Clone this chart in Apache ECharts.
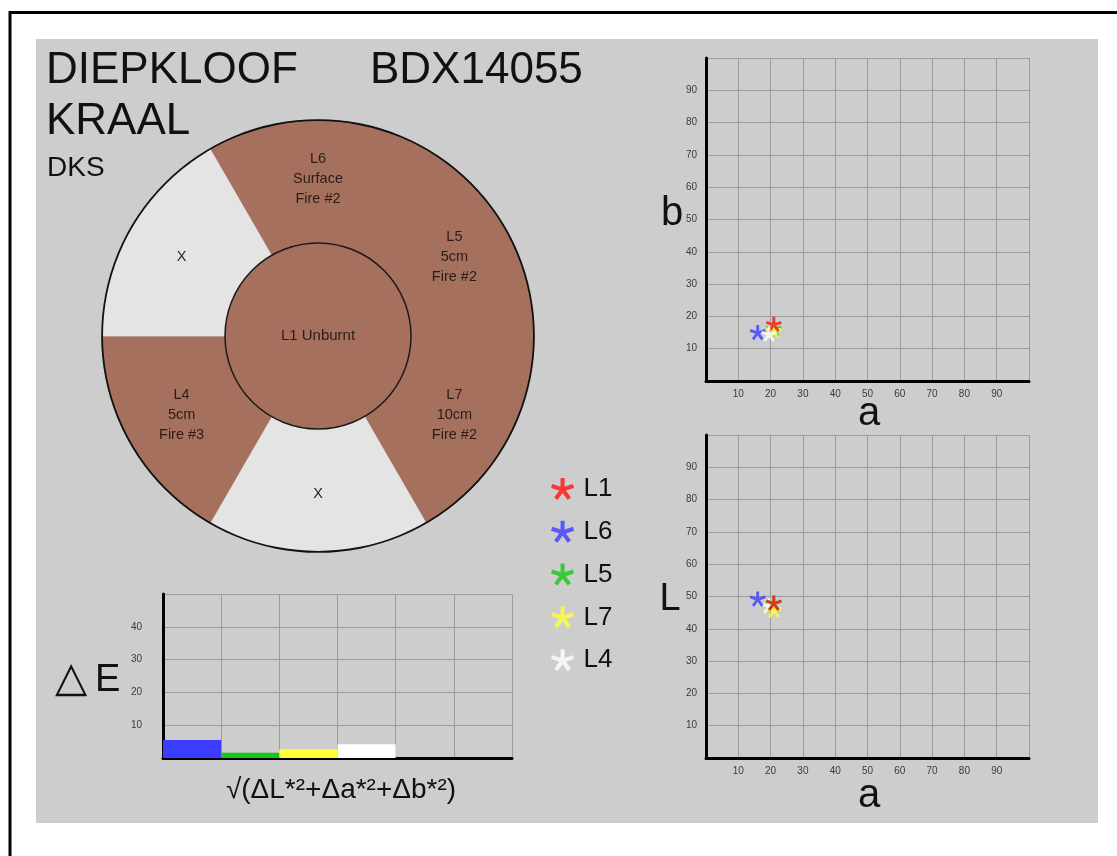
<!DOCTYPE html>
<html><head><meta charset="utf-8">
<script src="https://cdn.jsdelivr.net/npm/echarts@6/dist/echarts.min.js"></script>
<style>html,body{margin:0;padding:0;background:#fff}#c{width:1117px;height:856px}</style>
</head><body><div id="c"></div>
<script>
// ---------------- DATA ----------------
const samples = ['L1', 'L6', 'L5', 'L7', 'L4'];
const aValues = [21, 16, 21, 21, 19.5];
const bValues = [17.5, 15, 16, 15.5, 14.5];
const LValues = [47.9, 49.2, 48, 45.7, 47];
const deltaECategories = ['L6', 'L5', 'L7', 'L4', '', ''];
const deltaEValues = [5.5, 1.6, 2.7, 4.2, null, null];
const sectorLabels = ['L6\nSurface\nFire #2', 'L5\n5cm\nFire #2', 'L7\n10cm\nFire #2', 'X', 'L4\n5cm\nFire #3', 'X'];
const sectorValues = [1, 1, 1, 1, 1, 1];
const centerLabel = 'L1 Unburnt';
const tickStep = 10;

// ---------------- STYLE ----------------
const sampleColors = ['#ff1414', '#3c3cff', '#14c814', '#ffff3a', '#ffffff'];
const barColors = ['#3c3cff', '#14c814', '#ffff3a', '#ffffff'];
const BROWN = '#a6705f', XCOL = '#e4e4e4';
const sectorColors = [BROWN, BROWN, BROWN, XCOL, BROWN, XCOL];
const FONT = '"Liberation Sans", Arial, sans-serif';

function starPath() {
  const len = 10, hw = 1.8; let d = '';
  for (let k = 0; k < 5; k++) {
    const t = (-90 + 72 * k) * Math.PI / 180;
    const ux = Math.cos(t), uy = Math.sin(t), px = -uy, py = ux;
    const s = -hw;
    const pts = [[ux * s + px * hw, uy * s + py * hw], [ux * len + px * hw, uy * len + py * hw],
                 [ux * len - px * hw, uy * len - py * hw], [ux * s - px * hw, uy * s - py * hw]];
    d += 'M' + pts.map(p => p[0].toFixed(2) + ' ' + p[1].toFixed(2)).join(' L') + ' Z ';
  }
  return 'path://' + d;
}
const STAR = starPath();

const chart = echarts.init(document.getElementById('c'), null, {renderer: 'canvas'});

const gridLine = {show: true, lineStyle: {color: '#9c9c9c', width: 1}};
const axisLineBlack = {show: true, onZero: false, lineStyle: {color: '#000', width: 3}};
const tickLbl = {fontSize: 10, color: '#3a3a3a', fontFamily: FONT, showMinLabel: false, showMaxLabel: false};

function valAxis(grid, extra) {
  return Object.assign({
    type: 'value', gridIndex: grid, min: 0, max: 100, interval: tickStep,
    axisLine: axisLineBlack, axisTick: {show: false}, splitLine: gridLine,
    axisLabel: Object.assign({}, tickLbl)
  }, extra || {});
}

const zTop = {L1: 4, L6: 3, L5: 2, L7: 2.5, L4: 5};
const zBot = {L1: 4, L6: 4, L5: 3, L7: 2.5, L4: 1};

const series = [];
samples.forEach((s, i) => {
  series.push({
    type: 'scatter', name: s, xAxisIndex: 0, yAxisIndex: 0, z: zTop[s],
    symbol: STAR, symbolKeepAspect: true, symbolSize: 16,
    itemStyle: {color: sampleColors[i]}, silent: true,
    data: [[aValues[i], bValues[i]]]
  });
  series.push({
    type: 'scatter', name: s, xAxisIndex: 1, yAxisIndex: 1, z: zBot[s],
    symbol: STAR, symbolKeepAspect: true, symbolSize: 16,
    itemStyle: {color: sampleColors[i]}, silent: true,
    data: [[aValues[i], LValues[i]]]
  });
});

series.push({
  type: 'bar', xAxisIndex: 2, yAxisIndex: 2, barCategoryGap: '0%', silent: true,
  data: deltaEValues.map((v, i) => ({value: v, itemStyle: {color: barColors[i] || '#fff'}}))
});

series.push({
  type: 'pie', center: [318, 336], radius: [93, 216], startAngle: 120, clockwise: true,
  silent: true, avoidLabelOverlap: false, z: 2,
  label: {show: true, position: 'inside', formatter: '{b}', fontSize: 14.5, lineHeight: 20, color: '#2a1d18', fontFamily: FONT},
  labelLine: {show: false}, emphasis: {disabled: true},
  data: sectorValues.map((v, i) => ({value: v, name: sectorLabels[i],
    itemStyle: {color: sectorColors[i], borderColor: sectorColors[i], borderWidth: 0.8}}))
});
series.push({
  type: 'pie', center: [318, 336], radius: [215, 216.8], silent: true, z: 3,
  label: {show: false}, labelLine: {show: false}, emphasis: {disabled: true},
  data: [{value: 1, name: 'ring', itemStyle: {color: '#111'}}]
});
series.push({
  type: 'pie', center: [318, 336], radius: [0, 93], silent: true, z: 3,
  label: {show: true, position: 'center', formatter: '{b}', fontSize: 15, color: '#2a1d18', fontFamily: FONT},
  labelLine: {show: false}, emphasis: {disabled: true},
  itemStyle: {borderColor: '#1a1a1a', borderWidth: 1.5},
  data: [{value: 1, name: centerLabel, itemStyle: {color: BROWN}}]
});

function txt(x, y, text, size, align, family) {
  return {type: 'text', x: x, y: y, z: 100, silent: true,
    style: {text: text, fontSize: size, fontFamily: family || FONT, fill: '#111', align: align || 'left', verticalAlign: 'middle'}};
}

const option = {
  animation: false,
  backgroundColor: '#ffffff',
  textStyle: {fontFamily: FONT},
  grid: [
    {left: 706, top: 58, width: 323, height: 323},
    {left: 706, top: 435, width: 323, height: 323},
    {left: 163, top: 594, width: 349, height: 164}
  ],
  xAxis: [
    valAxis(0, {axisLabel: Object.assign({}, tickLbl, {margin: 8})}),
    valAxis(1, {axisLabel: Object.assign({}, tickLbl, {margin: 8})}),
    {type: 'category', gridIndex: 2, data: deltaECategories, boundaryGap: true,
     axisLine: axisLineBlack, axisTick: {show: false}, axisLabel: {show: false}, splitLine: gridLine}
  ],
  yAxis: [
    valAxis(0, {axisLabel: Object.assign({}, tickLbl, {margin: 9})}),
    valAxis(1, {axisLabel: Object.assign({}, tickLbl, {margin: 9})}),
    {type: 'value', gridIndex: 2, min: 0, max: 50, interval: tickStep,
     axisLine: axisLineBlack, axisTick: {show: false}, splitLine: gridLine,
     axisLabel: Object.assign({}, tickLbl, {margin: 21})}
  ],
  legend: {
    orient: 'vertical', left: 546, top: 471, itemWidth: 32, itemHeight: 22, itemGap: 16.8,
    selectedMode: false, data: samples,
    textStyle: {fontSize: 26, color: '#111', fontFamily: FONT}
  },
  graphic: [
    {type: 'rect', z: -10, silent: true, shape: {x: 36, y: 39, width: 1062, height: 784}, style: {fill: '#cdcdcd'}},
    {type: 'line', z: 100, silent: true, shape: {x1: 9, y1: 12.5, x2: 1117, y2: 12.5}, style: {stroke: '#000', lineWidth: 3}},
    {type: 'line', z: 100, silent: true, shape: {x1: 10, y1: 11, x2: 10, y2: 856}, style: {stroke: '#000', lineWidth: 3}},
    txt(46, 71, 'DIEPKLOOF', 44),
    txt(370, 71, 'BDX14055', 44),
    txt(46, 122, 'KRAAL', 44),
    txt(47, 168, 'DKS', 28),
    txt(672, 214, 'b', 40, 'center'),
    txt(869, 414, 'a', 40, 'center'),
    txt(670, 600, 'L', 38, 'center'),
    txt(869, 796, 'a', 40, 'center'),
    txt(55, 680, '△', 42, 'left', '"DejaVu Sans", sans-serif'),
    txt(95, 681, 'E', 38),
    txt(341, 790, '√(ΔL*²+Δa*²+Δb*²)', 28, 'center')
  ],
  series: series
};
chart.setOption(option);
</script>
</body></html>
